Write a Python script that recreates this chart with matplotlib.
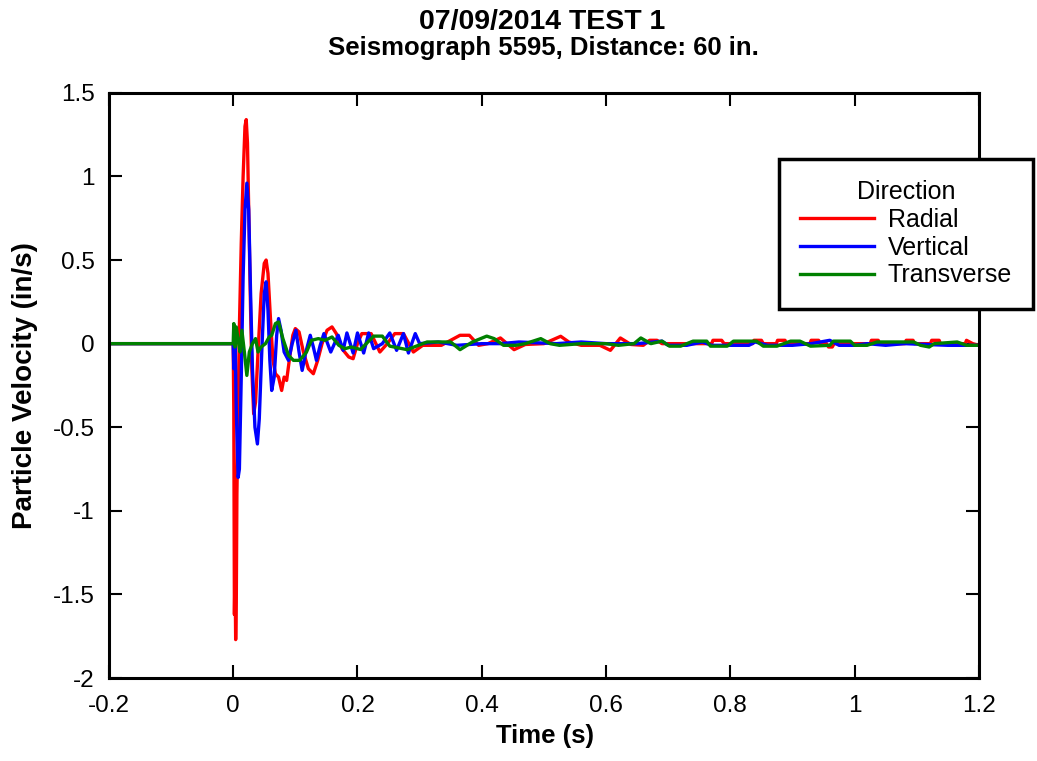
import matplotlib
matplotlib.use("Agg")
import matplotlib.pyplot as plt

plt.rcParams["font.family"] = ["Liberation Sans", "DejaVu Sans"]
plt.rcParams["axes.unicode_minus"] = False

# Radial
t_radial = [-0.2, 0.0, 0.001, 0.002, 0.003, 0.004, 0.005, 0.006, 0.008, 0.010,
            0.013, 0.016, 0.019, 0.021, 0.023, 0.025, 0.028, 0.030, 0.033, 0.036,
            0.040, 0.045, 0.050, 0.053, 0.056, 0.060, 0.064, 0.068, 0.073, 0.078,
            0.082, 0.086, 0.091, 0.096, 0.100, 0.106, 0.113, 0.121, 0.129, 0.136,
            0.143, 0.151, 0.159, 0.166, 0.175, 0.186, 0.193, 0.200, 0.207, 0.222,
            0.236, 0.248, 0.260, 0.274, 0.290, 0.305, 0.335, 0.365, 0.380, 0.395,
            0.410, 0.430, 0.452, 0.470, 0.500, 0.527, 0.540, 0.560, 0.590, 0.607,
            0.623, 0.640, 0.660, 0.670, 0.682, 0.690, 0.770, 0.772, 0.786, 0.790,
            0.836, 0.838, 0.850, 0.853, 0.874, 0.876, 0.888, 0.890, 0.928, 0.930,
            0.942, 0.945, 0.955, 0.958, 0.964, 0.967, 1.025, 1.027, 1.038, 1.040,
            1.081, 1.083, 1.094, 1.096, 1.122, 1.124, 1.136, 1.138, 1.178, 1.180,
            1.190, 1.200]
v_radial = [0.0, 0.0, -0.4, -1.62, -1.35, -1.77, -1.55, -0.9, -0.4, 0.1,
            0.6, 1.0, 1.3, 1.34, 1.2, 0.8, 0.2, -0.15, -0.42, -0.35,
            -0.05, 0.3, 0.48, 0.5, 0.42, 0.15, -0.1, -0.18, -0.2, -0.28,
            -0.2, -0.22, -0.08, 0.05, 0.09, 0.07, -0.05, -0.15, -0.18, -0.1,
            0.0, 0.08, 0.1, 0.06, -0.03, -0.08, -0.09, 0.0, 0.06, 0.06,
            -0.05, 0.0, 0.06, 0.06, -0.05, -0.01, -0.01, 0.05, 0.05, -0.01,
            0.0, 0.034, -0.036, -0.005, 0.0, 0.044, 0.01, -0.01, -0.01, -0.04,
            0.034, -0.005, -0.01, 0.02, 0.02, 0.0, 0.0, 0.02, 0.02, 0.0,
            0.0, 0.02, 0.02, 0.0, 0.0, 0.02, 0.02, 0.0, 0.0, 0.02,
            0.02, 0.0, 0.0, -0.02, -0.02, 0.0, 0.0, 0.02, 0.02, 0.0,
            0.0, 0.02, 0.02, 0.0, 0.0, 0.02, 0.02, 0.0, 0.0, 0.02,
            0.0, -0.01]

# Vertical
t_vertical = [-0.2, 0.0, 0.001, 0.003, 0.005, 0.008, 0.010, 0.013, 0.016, 0.019,
              0.022, 0.025, 0.028, 0.031, 0.035, 0.039, 0.042, 0.046, 0.050, 0.053,
              0.056, 0.059, 0.062, 0.066, 0.070, 0.073, 0.077, 0.082, 0.089, 0.095,
              0.101, 0.106, 0.111, 0.117, 0.124, 0.129, 0.134, 0.140, 0.146, 0.152,
              0.157, 0.163, 0.169, 0.177, 0.183, 0.193, 0.200, 0.210, 0.218, 0.226,
              0.240, 0.252, 0.263, 0.274, 0.282, 0.293, 0.300, 0.330, 0.360, 0.400,
              0.430, 0.460, 0.520, 0.560, 0.600, 0.650, 0.690, 0.700, 0.730, 0.755,
              0.770, 0.800, 0.830, 0.840, 0.860, 0.900, 0.930, 0.960, 0.975, 1.000,
              1.020, 1.050, 1.080, 1.150, 1.180, 1.200]
v_vertical = [0.0, 0.0, -0.15, 0.05, -0.4, -0.8, -0.75, -0.2, 0.4, 0.8,
              0.96, 0.8, 0.3, -0.15, -0.5, -0.6, -0.45, -0.05, 0.3, 0.37,
              0.2, -0.1, -0.28, -0.2, 0.05, 0.15, 0.08, -0.05, -0.1, 0.0,
              0.08, -0.05, -0.16, -0.05, 0.05, -0.02, -0.1, -0.01, 0.06, 0.0,
              -0.05, 0.0, 0.05, -0.04, 0.064, -0.056, 0.064, -0.056, 0.064, -0.03,
              0.0, 0.064, -0.04, 0.06, -0.056, 0.06, 0.0, 0.01, -0.01, 0.0,
              0.0, 0.01, 0.0, 0.01, 0.0, 0.0, 0.015, -0.01, -0.01, 0.01,
              -0.01, -0.01, -0.01, 0.01, -0.01, -0.01, 0.0, 0.02, -0.01, -0.01,
              0.0, -0.01, 0.0, -0.01, -0.01, -0.01]

# Transverse
t_transverse = [-0.2, 0.0, 0.001, 0.003, 0.005, 0.008, 0.011, 0.014, 0.018, 0.022,
                0.026, 0.031, 0.036, 0.040, 0.045, 0.052, 0.058, 0.062, 0.068, 0.073,
                0.080, 0.089, 0.097, 0.107, 0.118, 0.126, 0.137, 0.148, 0.159, 0.170,
                0.180, 0.190, 0.205, 0.226, 0.240, 0.252, 0.280, 0.312, 0.350, 0.365,
                0.385, 0.408, 0.420, 0.435, 0.455, 0.470, 0.495, 0.510, 0.525, 0.560,
                0.600, 0.620, 0.645, 0.656, 0.672, 0.690, 0.702, 0.720, 0.740, 0.762,
                0.768, 0.795, 0.805, 0.842, 0.853, 0.875, 0.897, 0.912, 0.929, 0.960,
                0.966, 0.993, 1.000, 1.020, 1.036, 1.095, 1.106, 1.120, 1.128, 1.165,
                1.180, 1.200]
v_transverse = [0.0, 0.0, 0.12, -0.02, 0.1, 0.02, -0.05, 0.08, -0.05, -0.19,
                -0.05, 0.0, 0.03, -0.05, -0.02, 0.0, 0.04, 0.05, 0.12, 0.13,
                0.03, -0.07, -0.1, -0.1, -0.05, 0.02, 0.03, 0.02, 0.04, -0.01,
                -0.03, -0.02, -0.035, 0.045, 0.045, -0.015, -0.036, 0.01, 0.01, -0.036,
                0.01, 0.045, 0.03, -0.01, -0.01, 0.0, 0.03, 0.0, -0.01, 0.0,
                0.0, -0.01, 0.0, 0.034, 0.0, 0.015, -0.015, -0.015, 0.015, 0.015,
                -0.015, -0.015, 0.015, 0.015, -0.015, -0.015, 0.015, 0.015, -0.015, -0.01,
                0.015, 0.015, -0.01, -0.01, 0.01, 0.01, -0.01, -0.02, 0.0, 0.01,
                -0.01, -0.01]

x_ticks = [-0.2, 0.0, 0.2, 0.4, 0.6, 0.8, 1.0, 1.2]
x_tick_labels = ["-0.2", "0", "0.2", "0.4", "0.6", "0.8", "1", "1.2"]
y_ticks = [-2.0, -1.5, -1.0, -0.5, 0.0, 0.5, 1.0, 1.5]
y_tick_labels = ["-2", "-1.5", "-1", "-0.5", "0", "0.5", "1", "1.5"]

fig = plt.figure(figsize=(10.37, 7.61), dpi=100)
ax = fig.add_axes([0.105, 0.109, 0.839, 0.769])

ax.plot(t_radial, v_radial, color="#ff0000", lw=2.4, label="Radial")
ax.plot(t_vertical, v_vertical, color="#0000ff", lw=2.4, label="Vertical")
ax.plot(t_transverse, v_transverse, color="#008000", lw=2.4, label="Transverse")

ax.set_xlim(-0.2, 1.2)
ax.set_ylim(-2, 1.5)
ax.set_xticks(x_ticks)
ax.set_xticklabels(x_tick_labels)
ax.set_yticks(y_ticks)
ax.set_yticklabels(y_tick_labels)
ax.tick_params(direction="in", length=9.5, width=1.5, top=True, right=True, labelsize=17.5)
ax.tick_params(axis="x", pad=12)
ax.tick_params(axis="y", pad=10)
for s in ax.spines.values():
    s.set_linewidth(2.2)

ax.set_xlabel("Time (s)", fontsize=18.5, fontweight="bold")
ax.set_ylabel("Particle Velocity (in/s)", fontsize=20, fontweight="bold")
ax.xaxis.set_label_coords(0.501, -0.078)
ax.yaxis.set_label_coords(-0.082, 0.50)

fig.text(0.523, 0.971, "07/09/2014 TEST 1", ha="center", va="center", fontsize=20.5, fontweight="bold")
fig.text(0.524, 0.937, "Seismograph 5595, Distance: 60 in.", ha="center", va="center", fontsize=18.5, fontweight="bold")

leg = ax.legend(title="Direction", loc="upper right", bbox_to_anchor=(1033 / 1037, 1 - 159 / 761),
                bbox_transform=fig.transFigure, fontsize=18, title_fontsize=18,
                handlelength=2.95, handletextpad=0.55, labelspacing=0.15, borderpad=0.85,
                fancybox=False, framealpha=1, borderaxespad=0)
leg.get_frame().set_edgecolor("black")
leg.get_frame().set_linewidth(2.5)
leg.get_title().set_ha("center")

plt.savefig("out.png", dpi=100)
